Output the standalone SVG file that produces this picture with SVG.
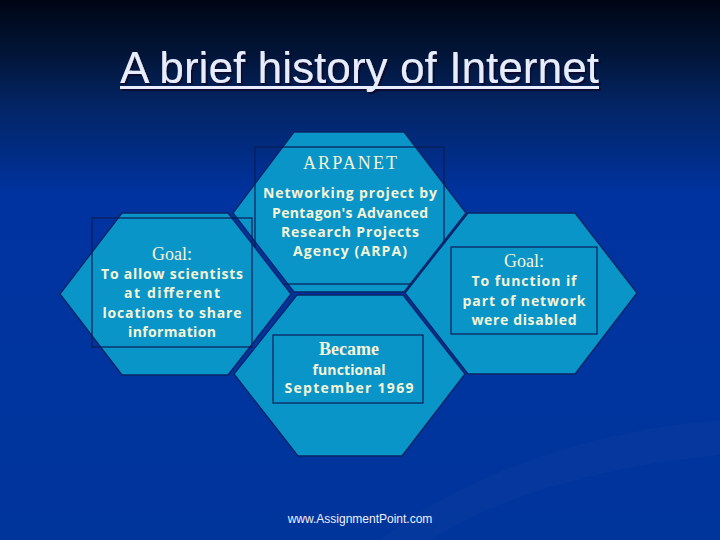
<svg xmlns="http://www.w3.org/2000/svg" width="720" height="540" viewBox="0 0 720 540">
<defs>
<linearGradient id="bg" x1="0" y1="0" x2="0" y2="1">
<stop offset="0" stop-color="#000514"/>
<stop offset="0.1" stop-color="#021538"/>
<stop offset="0.2" stop-color="#032566"/>
<stop offset="0.36" stop-color="#0033a0"/>
<stop offset="1" stop-color="#00359c"/>
</linearGradient>
<filter id="shadow" x="-5%" y="-20%" width="110%" height="150%">
<feDropShadow dx="2" dy="2" stdDeviation="0.4" flood-color="#0a1030" flood-opacity="1"/>
</filter>
<style>
.hex{fill:#0a95c9;stroke:#0b2466;stroke-width:1.3}
.box{fill:none;stroke:#0b1d55;stroke-width:1.2}
.ser{font-family:"Liberation Serif","Times New Roman",serif;font-size:18px;fill:#f4f4d6;text-anchor:middle}
.bod{font-family:"Open Sans","Liberation Sans",sans-serif;font-weight:700;font-size:14px;fill:#f4f4d6;text-anchor:middle}
.ttl{font-family:"Liberation Sans",Arial,sans-serif;font-size:44px}
</style>
</defs>
<rect width="720" height="540" fill="url(#bg)"/>
<path d="M380 540 C470 470 600 430 720 420 L720 455 C610 465 500 495 430 540 Z" fill="#ffffff" opacity="0.02"/>

<g id="title" filter="url(#shadow)">
<text class="ttl" x="120" y="83" fill="#e8ecff" textLength="479" lengthAdjust="spacingAndGlyphs">A brief history of Internet</text>
<rect x="120" y="86" width="479" height="3" fill="#e8ecff"/>
</g>

<g id="node-arpanet">
<polygon class="hex" points="294,132 404,132 466,213 404,292 294,292 233,213"/>
<rect class="box" x="255" y="147" width="189" height="137"/>
<text class="ser" x="350" y="169" textLength="94" lengthAdjust="spacing">ARPANET</text>
<text class="bod" x="350" y="198" textLength="174" lengthAdjust="spacing">Networking project by</text>
<text class="bod" x="350" y="218" textLength="156" lengthAdjust="spacing">Pentagon's Advanced</text>
<text class="bod" x="350" y="237" textLength="138" lengthAdjust="spacing">Research Projects</text>
<text class="bod" x="350" y="256" textLength="114" lengthAdjust="spacing">Agency (ARPA)</text>
</g>

<g id="node-goal-left">
<polygon class="hex" points="122,213 228,213 291,294 228,375 122,375 60,294"/>
<rect class="box" x="92" y="218" width="160" height="129"/>
<text class="ser" x="172" y="260">Goal:</text>
<text class="bod" x="172" y="279" textLength="142" lengthAdjust="spacing">To allow scientists</text>
<text class="bod" x="172" y="298" textLength="96" lengthAdjust="spacing">at different</text>
<text class="bod" x="172" y="318" textLength="139" lengthAdjust="spacing">locations to share</text>
<text class="bod" x="172" y="337" textLength="88" lengthAdjust="spacing">information</text>
</g>

<g id="node-goal-right">
<polygon class="hex" points="468,213 575,213 637,293 575,374 468,374 405,293"/>
<rect class="box" x="451" y="247" width="146" height="87"/>
<text class="ser" x="524" y="267">Goal:</text>
<text class="bod" x="524" y="286" textLength="105" lengthAdjust="spacing">To function if</text>
<text class="bod" x="524" y="306" textLength="123" lengthAdjust="spacing">part of network</text>
<text class="bod" x="524" y="325" textLength="105" lengthAdjust="spacing">were disabled</text>
</g>

<g id="node-functional">
<polygon class="hex" points="297,295 403,295 465,374 402,456 298,456 234,374"/>
<rect class="box" x="273" y="335" width="150" height="68"/>
<text class="ser" x="349" y="355" font-weight="700">Became</text>
<text class="bod" x="349" y="375" textLength="73" lengthAdjust="spacing">functional</text>
<text class="bod" x="349" y="393" textLength="129" lengthAdjust="spacing">September 1969</text>
</g>

<g id="footer">
<text x="360" y="523" font-family="Liberation Sans, Arial, sans-serif" font-size="12" fill="#f0f0ff" text-anchor="middle">www.AssignmentPoint.com</text>
</g>
</svg>
